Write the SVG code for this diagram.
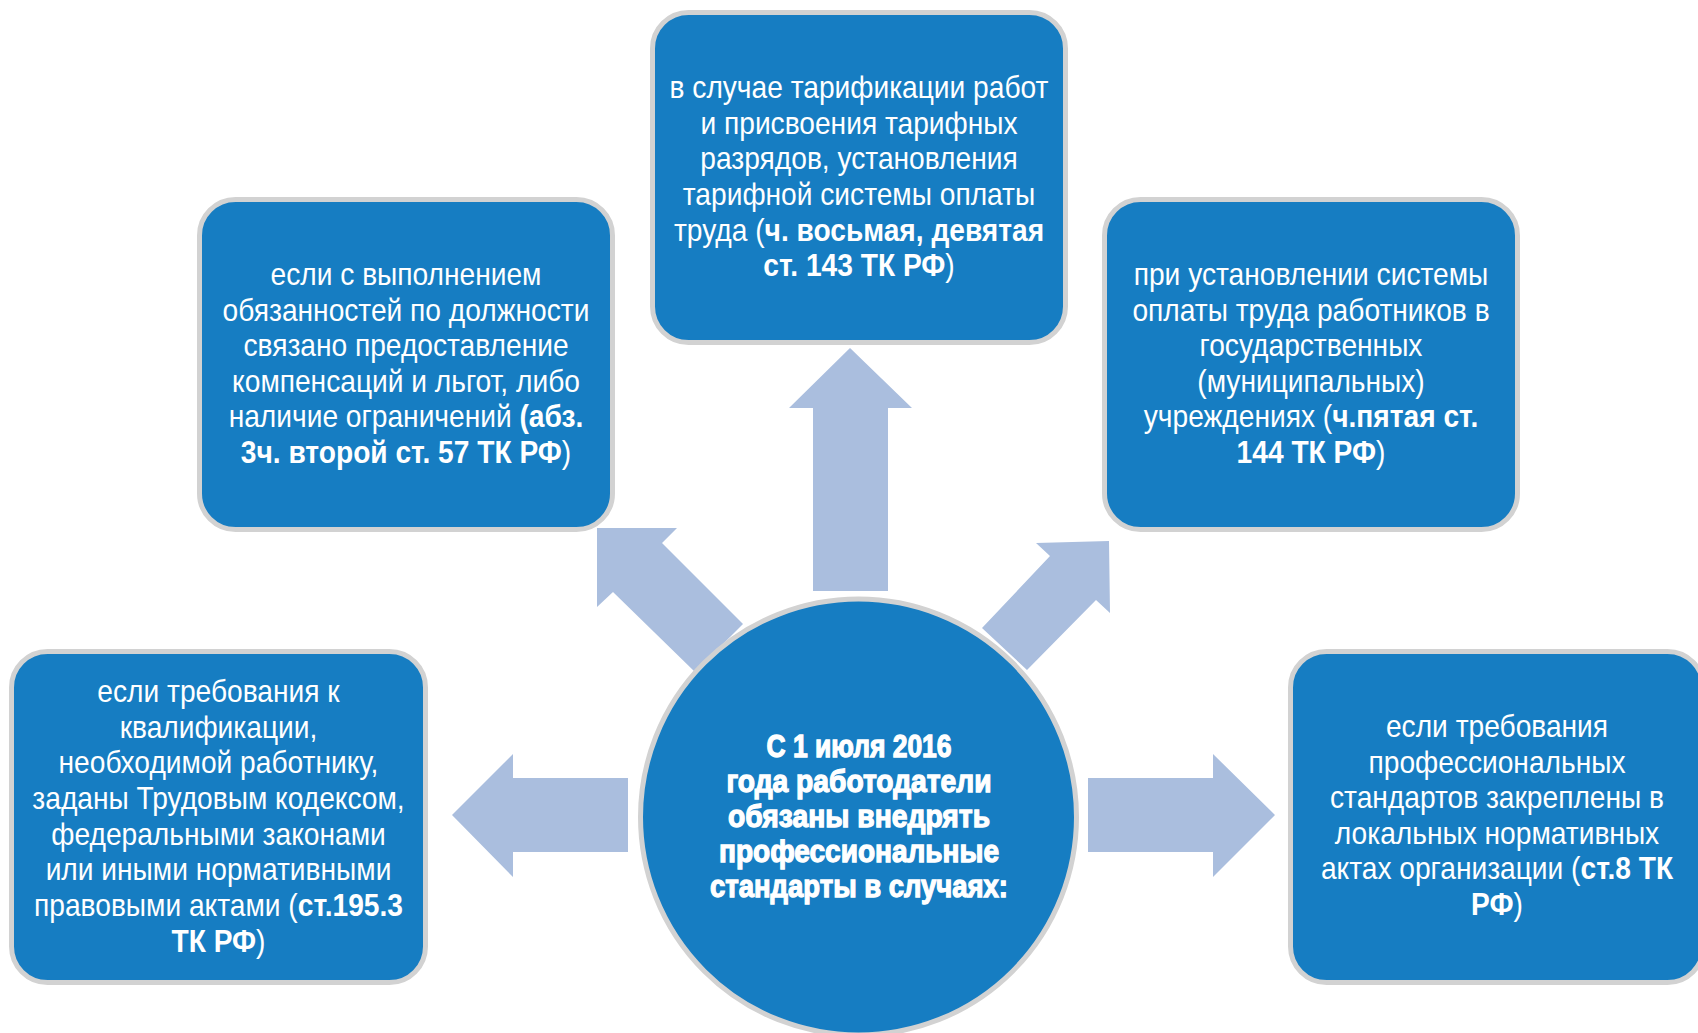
<svg xmlns="http://www.w3.org/2000/svg" width="1698" height="1033" viewBox="0 0 1698 1033">
<style>
.box{fill:#167DC2;stroke:#D2D2D2;stroke-width:5}
.arr{fill:#AABEDE}
.t{font-family:"Liberation Sans",Arial,sans-serif;font-size:32px;fill:#FFFFFF;text-anchor:middle}
.b{font-weight:bold}
.c{font-family:"Liberation Sans",Arial,sans-serif;font-size:32px;font-weight:bold;fill:#FFFFFF;stroke:#FFFFFF;stroke-width:1.3;text-anchor:middle}
</style>
<rect width="1698" height="1033" fill="#FFFFFF"/>
<g id="connectors">
<polygon class="arr" points="850,348 912,408 888,408 888,591 813,591 813,408 789,408"/>
<polygon class="arr" points="452,815 513,754 513,778 628,778 628,852 513,852 513,877"/>
<polygon class="arr" points="1275,815 1213,754 1213,778 1088,778 1088,852 1213,852 1213,877"/>
<polygon class="arr" points="597,528 677,528 662,543 743,624 695,672 613,592 597,607"/>
<polygon class="arr" points="1109,541 1036,543 1050,556 982,628 1027,670 1096,600 1110,613"/>
</g>
<g id="node-top">
<rect class="box" x="652.5" y="12.5" width="413" height="330" rx="36"/>
<g transform="translate(859,0) scale(0.88,1)">
<text class="t" x="0" y="98">в случае тарификации работ</text>
<text class="t" x="0" y="133.7">и присвоения тарифных</text>
<text class="t" x="0" y="169.4">разрядов, установления</text>
<text class="t" x="0" y="205">тарифной системы оплаты</text>
<text class="t" x="0" y="240.7">труда (<tspan class="b">ч. восьмая, девятая</tspan></text>
<text class="t" x="0" y="276.4"><tspan class="b">ст. 143 ТК РФ</tspan>)</text>
</g>
</g>
<g id="node-left-upper">
<rect class="box" x="199.5" y="199.5" width="413" height="330" rx="36"/>
<g transform="translate(406,0) scale(0.88,1)">
<text class="t" x="0" y="285">если с выполнением</text>
<text class="t" x="0" y="320.6">обязанностей по должности</text>
<text class="t" x="0" y="356.2">связано предоставление</text>
<text class="t" x="0" y="391.8">компенсаций и льгот, либо</text>
<text class="t" x="0" y="427.4">наличие ограничений <tspan class="b">(абз.</tspan></text>
<text class="t" x="0" y="463"><tspan class="b">3ч. второй ст. 57 ТК РФ</tspan>)</text>
</g>
</g>
<g id="node-right-upper">
<rect class="box" x="1104.5" y="199.5" width="413" height="330" rx="36"/>
<g transform="translate(1311,0) scale(0.88,1)">
<text class="t" x="0" y="285">при установлении системы</text>
<text class="t" x="0" y="320.6">оплаты труда работников в</text>
<text class="t" x="0" y="356.2">государственных</text>
<text class="t" x="0" y="391.8">(муниципальных)</text>
<text class="t" x="0" y="427.4">учреждениях (<tspan class="b">ч.пятая ст.</tspan></text>
<text class="t" x="0" y="463"><tspan class="b">144 ТК РФ</tspan>)</text>
</g>
</g>
<g id="node-left-lower">
<rect class="box" x="11.5" y="651.5" width="414" height="331" rx="36"/>
<g transform="translate(218.5,0) scale(0.88,1)">
<text class="t" x="0" y="702">если требования к</text>
<text class="t" x="0" y="737.7">квалификации,</text>
<text class="t" x="0" y="773.4">необходимой работнику,</text>
<text class="t" x="0" y="809.1">заданы Трудовым кодексом,</text>
<text class="t" x="0" y="844.8">федеральными законами</text>
<text class="t" x="0" y="880.5">или иными нормативными</text>
<text class="t" x="0" y="916.2">правовыми актами (<tspan class="b">ст.195.3</tspan></text>
<text class="t" x="0" y="952"><tspan class="b">ТК РФ</tspan>)</text>
</g>
</g>
<g id="node-right-lower">
<rect class="box" x="1290.5" y="651.5" width="413" height="331" rx="36"/>
<g transform="translate(1497,0) scale(0.88,1)">
<text class="t" x="0" y="737">если требования</text>
<text class="t" x="0" y="772.6">профессиональных</text>
<text class="t" x="0" y="808.2">стандартов закреплены в</text>
<text class="t" x="0" y="843.8">локальных нормативных</text>
<text class="t" x="0" y="879.4">актах организации (<tspan class="b">ст.8 ТК</tspan></text>
<text class="t" x="0" y="915"><tspan class="b">РФ</tspan>)</text>
</g>
</g>
<g id="node-center">
<circle cx="858.5" cy="817" r="218" fill="#167DC2" stroke="#D2D2D2" stroke-width="5"/>
<text class="c" x="859" y="757" textLength="185" lengthAdjust="spacingAndGlyphs">С 1 июля 2016</text>
<text class="c" x="859" y="792" textLength="265" lengthAdjust="spacingAndGlyphs">года работодатели</text>
<text class="c" x="859" y="827" textLength="262" lengthAdjust="spacingAndGlyphs">обязаны внедрять</text>
<text class="c" x="859" y="862" textLength="280" lengthAdjust="spacingAndGlyphs">профессиональные</text>
<text class="c" x="859" y="897" textLength="298" lengthAdjust="spacingAndGlyphs">стандарты в случаях:</text>
</g>
</svg>
